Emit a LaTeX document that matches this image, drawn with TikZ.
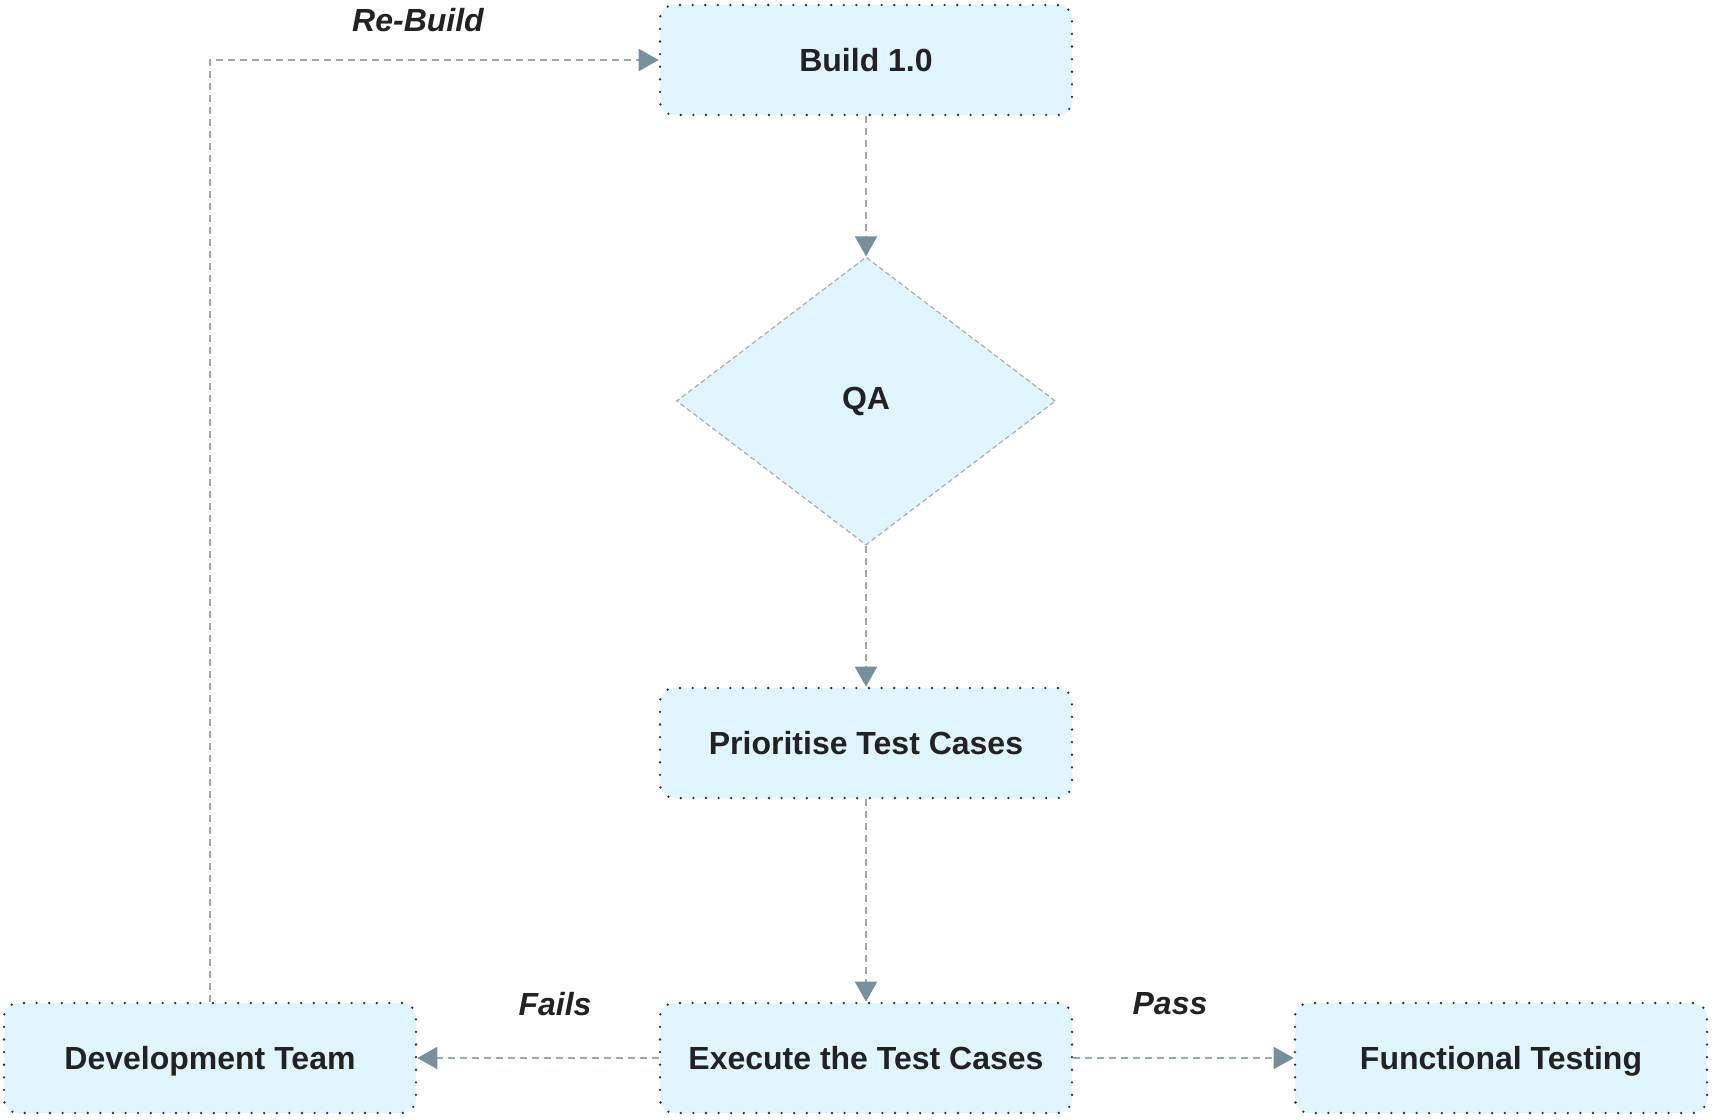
\documentclass[tikz,border=0pt]{standalone}
\usepackage{fontspec}
\setmainfont{Liberation Sans}
\usepackage{tikz}
\usetikzlibrary{shapes.geometric}
\usetikzlibrary{arrows.meta}
\definecolor{boxfill}{HTML}{E1F5FE}
\definecolor{linegray}{HTML}{9EA7AD}
\definecolor{tipgray}{HTML}{78909C}
\definecolor{textdark}{HTML}{222222}
\tikzset{
  stepbox/.style={rectangle, rounded corners=7pt, fill=boxfill, draw=black!80, line width=1.3pt, line cap=round, dash pattern=on 0pt off 6.3pt, minimum width=206pt, minimum height=55pt, text height=11.5pt, text depth=0.5pt, font=\fontsize{16}{18}\selectfont\bfseries, text=textdark},
  decision/.style={diamond, fill=boxfill, draw=gray!65, line width=0.6pt, dash pattern=on 2.5pt off 1.5pt, minimum width=189.5pt, minimum height=144pt, inner sep=0pt, font=\fontsize{16}{18}\selectfont\bfseries, text=textdark},
  flow/.style={draw=linegray, line width=1pt, dash pattern=on 3.5pt off 2.5pt, -{Triangle[length=10pt,width=11pt,color=tipgray,fill=tipgray]}},
  tag/.style={font=\fontsize{16}{18}\selectfont\bfseries\itshape, text=textdark}
}
\begin{document}
\begin{tikzpicture}[x=0.5pt,y=-0.5pt]
\useasboundingbox (0,0) rectangle (1723,1119);
\node[stepbox] (build) at (866,60) {Build 1.0};
\node[decision] (qa) at (866,401) {QA};
\node[stepbox] (prio) at (866,743) {Prioritise Test Cases};
\node[stepbox] (exec) at (866,1058) {Execute the Test Cases};
\node[stepbox] (dev) at (210,1058) {Development Team};
\node[stepbox] (func) at (1501,1058) {Functional Testing};
\draw[flow] (build) -- (qa);
\draw[flow] (qa) -- (prio);
\draw[flow] (prio) -- (exec);
\draw[flow] (exec) -- (dev);
\draw[flow] (exec) -- (func);
\draw[flow] (dev.north) |- (build.west);
\node[tag] (rebuild) at (418,20) {Re-Build};
\node[tag] (fails) at (555,1004) {Fails};
\node[tag] (pass) at (1170,1004) {Pass};
\end{tikzpicture}
\end{document}
